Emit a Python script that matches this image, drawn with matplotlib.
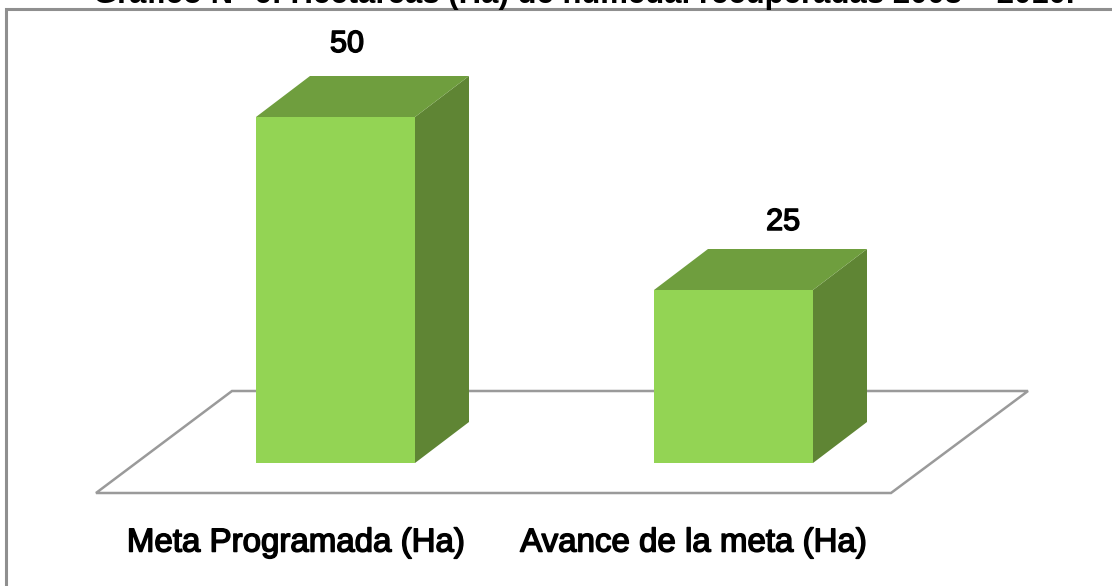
import numpy as np
import matplotlib
matplotlib.use("Agg")
import matplotlib.pyplot as plt
import matplotlib.patheffects as pe
from matplotlib.patches import Polygon, Rectangle

categories = ["Meta Programada (Ha)", "Avance de la meta (Ha)"]
values = [50, 25]
title = "Gráfico N° 6: Hectáreas (Ha) de humedal recuperadas 2008 – 2010."

W, H = 1112, 586
PX_X = 398.0  # pixels per category step
PX_Y = 6.92   # pixels per hectare
X0, Y0 = 335.5, 463  # where category 0 / value 0 sit in the image

BAR_W = 159 / PX_X
DX = 54 / PX_X
DY = 41 / PX_Y

# label spots in image pixels
value_xy = [(347, 44), (783, 222)]
cat_xy = [(295.5, 543), (693, 543)]

plt.rcParams["font.family"] = ["Liberation Sans", "DejaVu Sans"]

fig = plt.figure(figsize=(W / 100, H / 100), dpi=100)
ax = fig.add_axes([0, 0, 1, 1])
ax.set_xlim(-X0 / PX_X, (W - X0) / PX_X)
ax.set_ylim(-(H - Y0) / PX_Y, Y0 / PX_Y)
ax.axis("off")


def px(x, y):
    # image pixel -> data, only used for the chart frame, floor and labels
    return (x - X0) / PX_X, (Y0 - y) / PX_Y


# the labels are heavier than regular but lighter than bold in the original
semi = [pe.withStroke(linewidth=1.1, foreground="black")]

# outer frame, runs off the image on the right and at the bottom
ax.add_patch(Polygon([px(5.5, 8.5), px(1125, 8.5), px(1125, 600), px(5.5, 600)], closed=True,
                     fc="white", ec="#8f8f8f", lw=2.2, zorder=1, clip_on=True))

# floor
ax.add_patch(Polygon([px(96, 493), px(891, 493), px(1028, 391), px(232, 391)], closed=True,
                     fc="white", ec="#9a9a9a", lw=1.8, zorder=2))

for i, (cat, val) in enumerate(zip(categories, values)):
    left = i - BAR_W / 2
    right = i + BAR_W / 2
    # side face
    ax.add_patch(Polygon([(right, 0), (right + DX, DY), (right + DX, val + DY), (right, val)],
                         closed=True, fc="#5f8534", ec="none", zorder=3))
    # top face
    ax.add_patch(Polygon([(left, val), (left + DX, val + DY), (right + DX, val + DY), (right, val)],
                         closed=True, fc="#6f9e3e", ec="none", zorder=3))
    # front face
    ax.add_patch(Rectangle((left, 0), BAR_W, val, fc="#93d454", ec="none", zorder=4))
    ax.text(*px(*value_xy[i]), str(val), ha="center", va="center",
            fontsize=22, color="black", zorder=5, path_effects=semi)
    ax.text(*px(*cat_xy[i]), cat, ha="center", va="center",
            fontsize=23.8, color="black", zorder=5, path_effects=semi)

ax.text(*px(584, 3), title, ha="center", va="baseline", fontsize=22.4, fontweight="bold",
        color="black", zorder=5)

fig.savefig("out.png", dpi=100)
